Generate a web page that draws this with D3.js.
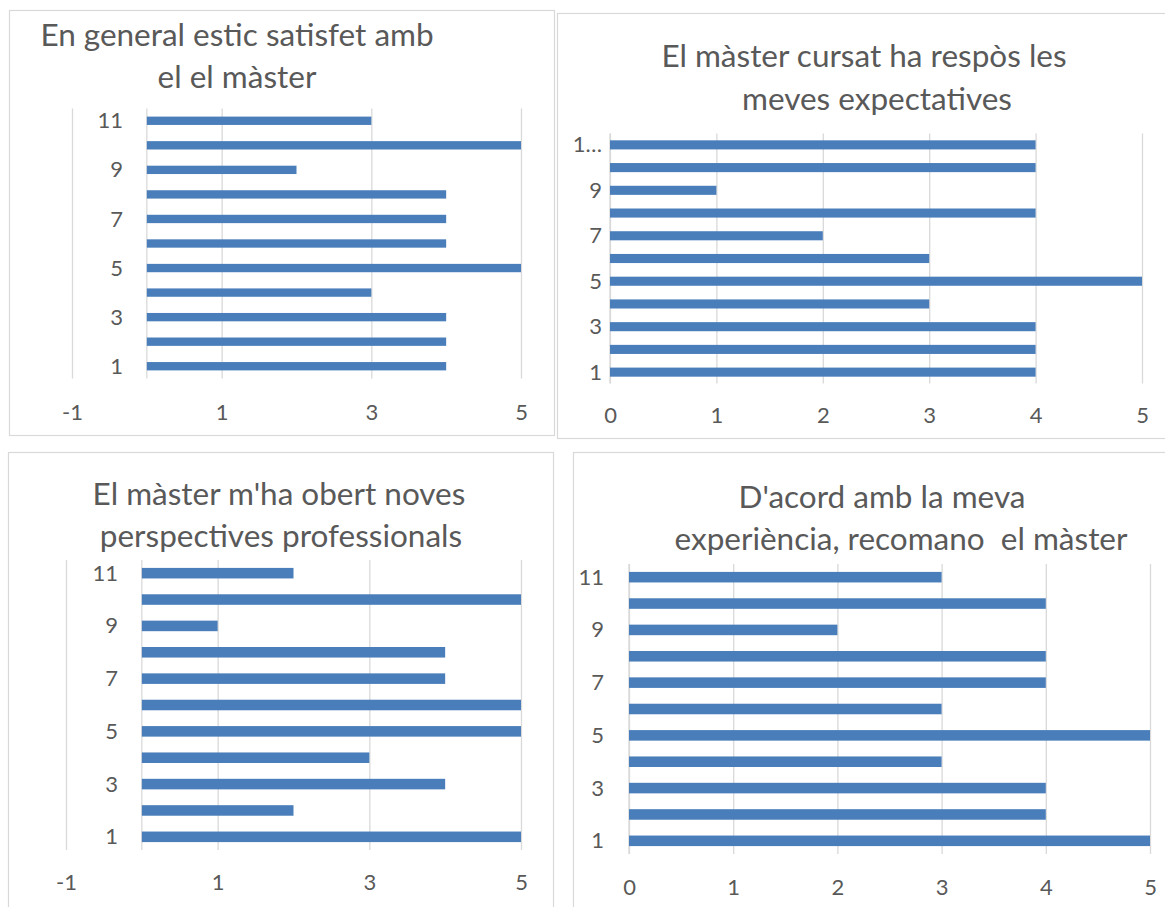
<!DOCTYPE html>
<html>
<head>
<meta charset="utf-8">
<script src="https://cdn.jsdelivr.net/npm/d3@7"></script>
<style>
  html, body { margin: 0; padding: 0; background: #fff; }
  svg { display: block; }
  .title { font-family: Lato, "Open Sans", sans-serif; fill: #595959; }
  .tick text { font-family: Lato, "Open Sans", sans-serif; fill: #595959; }
</style>
</head>
<body>
<svg id="chart" width="1165" height="907"></svg>
<script>
// Survey respondents 1..11, one answer (0-5 scale) per question
const categories = [1, 2, 3, 4, 5, 6, 7, 8, 9, 10, 11];
const labelsFull = ["1", "", "3", "", "5", "", "7", "", "9", "", "11"];
const labelsTrunc = ["1", "", "3", "", "5", "", "7", "", "9", "", "1…"];

const satisfaction   = [4, 4, 4, 3, 5, 4, 4, 4, 2, 5, 3];
const expectations   = [4, 4, 4, 3, 5, 3, 2, 4, 1, 4, 4];
const perspectives   = [5, 2, 4, 3, 5, 5, 4, 4, 1, 5, 2];
const recommendation = [5, 4, 4, 3, 5, 3, 4, 4, 2, 4, 3];

const ticksOdd  = [-1, 1, 3, 5];
const ticksUnit = [0, 1, 2, 3, 4, 5];

const titleSatisfaction   = ["En general estic satisfet amb", "el el màster"];
const titleExpectations   = ["El màster cursat ha respòs les", "meves expectatives"];
const titlePerspectives   = ["El màster m'ha obert noves", "perspectives professionals"];
const titleRecommendation = ["D'acord amb la meva", "experiència, recomano  el màster"];

// Layout of the four chart boxes
const panels = [
  {
    values: satisfaction, labels: labelsFull, ticks: ticksOdd, domain: [-1, 5],
    title: titleSatisfaction,
    box: [9.5, 10.5, 545, 425],
    titleLines: [[237, 46], [237, 88]],
    xRange: [72, 521], yRange: [378.5, 108.5], barFrac: 0.34,
    tickY: 412, labelX: 123
  },
  {
    values: expectations, labels: labelsTrunc, ticks: ticksUnit, domain: [0, 5],
    title: titleExpectations,
    box: [557.5, 13.5, 620, 425],
    titleLines: [[864, 67], [877, 110]],
    xRange: [610, 1142], yRange: [383.5, 133.5], barFrac: 0.4,
    tickY: 415, labelX: 602
  },
  {
    values: perspectives, labels: labelsFull, ticks: ticksOdd, domain: [-1, 5],
    title: titlePerspectives,
    box: [8.5, 452.5, 545, 470],
    titleLines: [[279, 505], [281, 547]],
    xRange: [66, 521], yRange: [850, 560], barFrac: 0.4,
    tickY: 882, labelX: 118
  },
  {
    values: recommendation, labels: labelsFull, ticks: ticksUnit, domain: [0, 5],
    title: titleRecommendation,
    box: [573.5, 452.5, 620, 470],
    titleLines: [[882, 508], [901, 550]],
    xRange: [629, 1150], yRange: [854, 564], barFrac: 0.4,
    tickY: 887, labelX: 604
  }
];

const svg = d3.select("#chart");

panels.forEach(p => {
  const g = svg.append("g");

  // frame
  g.append("rect")
    .attr("x", p.box[0]).attr("y", p.box[1])
    .attr("width", p.box[2]).attr("height", p.box[3])
    .attr("fill", "#fff").attr("stroke", "#d9d9d9").attr("stroke-width", 1.2);

  // title
  g.selectAll("text.title").data(p.title).join("text")
    .attr("class", "title")
    .attr("x", (d, i) => p.titleLines[i][0])
    .attr("y", (d, i) => p.titleLines[i][1])
    .attr("text-anchor", "middle")
    .style("font-size", "31.5px")
    .style("white-space", "pre")
    .text(d => d);

  const x = d3.scaleLinear().domain(p.domain).range(p.xRange);
  const y = d3.scalePoint().domain(categories).range(p.yRange).padding(0.5);
  const step = Math.abs(p.yRange[0] - p.yRange[1]) / categories.length;
  const barH = step * p.barFrac;
  const top = Math.min(...p.yRange), bottom = Math.max(...p.yRange);

  // vertical gridlines
  const grid = g.append("g")
    .attr("transform", `translate(0,${bottom})`)
    .call(d3.axisBottom(x).tickValues(p.ticks).tickSize(-(bottom - top)).tickFormat(""));
  grid.select(".domain").remove();
  grid.selectAll(".tick line").attr("stroke", "#d9d9d9").attr("stroke-width", 1.3);

  // value-axis tick labels (plain hyphen for negatives)
  const xa = g.append("g")
    .attr("transform", `translate(0,${p.tickY})`)
    .call(d3.axisBottom(x).tickValues(p.ticks).tickSize(0).tickPadding(0).tickFormat(d => String(d)));
  xa.select(".domain").remove();
  xa.selectAll(".tick text").style("font-size", "22px").attr("dy", "0.35em").attr("y", 0);

  // category axis line at zero
  g.append("line")
    .attr("x1", x(0)).attr("x2", x(0))
    .attr("y1", top).attr("y2", bottom)
    .attr("stroke", "#d9d9d9").attr("stroke-width", 1.3);

  // category labels
  const ya = g.append("g")
    .attr("transform", `translate(${p.labelX},0)`)
    .call(d3.axisLeft(y).tickSize(0).tickPadding(0).tickFormat((d, i) => p.labels[i]));
  ya.select(".domain").remove();
  ya.selectAll(".tick text").style("font-size", "22px");

  // bars
  g.selectAll("rect.bar").data(categories).join("rect")
    .attr("class", "bar")
    .attr("x", x(0))
    .attr("y", d => y(d) - barH / 2)
    .attr("width", (d, i) => x(p.values[i]) - x(0))
    .attr("height", barH)
    .attr("fill", "#4a7ebb");
});
</script>
</body>
</html>
